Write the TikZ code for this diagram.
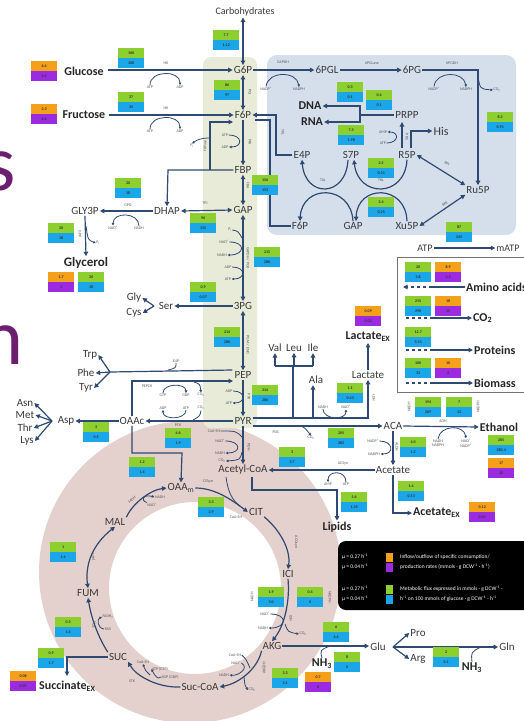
\documentclass[tikz,border=0pt]{standalone}
\usepackage{fontspec}
\setmainfont{Carlito}
\usetikzlibrary{arrows.meta}
\definecolor{lnc}{HTML}{2F4A72}
\definecolor{txt}{HTML}{3A3A3A}
\definecolor{fgreen}{HTML}{8CCF2E}
\definecolor{fblue}{HTML}{1AA6E8}
\definecolor{forange}{HTML}{F5A01A}
\definecolor{fpurple}{HTML}{9A2BE0}
\definecolor{bandc}{HTML}{E9EBD9}
\definecolor{pppc}{HTML}{D5DFEC}
\definecolor{ringc}{HTML}{E4D0CC}
\definecolor{slidec}{HTML}{6C1F6E}
\newcommand\FluxPair[7]{%
 \node[fbx,fill=#4,anchor=north west] (#1a) at (#2,#3) {#5};
 \node[fbx,fill=#6,anchor=north west] (#1b) at (#2,#3+10) {#7};}
\newcommand\GB[5]{\FluxPair{#1}{#2}{#3}{fgreen}{#4}{fblue}{#5}}
\newcommand\OP[5]{\FluxPair{#1}{#2}{#3}{forange}{#4}{fpurple}{#5}}
\tikzset{
 met/.style={font=\fontsize{11}{12}\selectfont, text=txt, inner sep=1pt},
 metb/.style={font=\fontsize{12}{13}\selectfont\bfseries, text=black!85, inner sep=1pt},
 cof/.style={font=\fontsize{4}{4.5}\selectfont, text=black!65, inner sep=0.5pt},
 enz/.style={font=\fontsize{4}{4.5}\selectfont, text=black!65, inner sep=0.5pt},
 fbx/.style={minimum width=26pt, minimum height=10pt, inner sep=0pt, font=\fontsize{4}{4}\selectfont\bfseries, text=black!80},
 ln/.style={draw=lnc, line width=1.2pt},
 ar/.style={ln, -{Triangle[length=4.5pt,width=4.5pt]}},
 dar/.style={ln, {Triangle[length=4.5pt,width=4.5pt]}-{Triangle[length=4.5pt,width=4.5pt]}},
 ca/.style={draw=lnc, line width=0.8pt, -{Triangle[length=2.5pt,width=2.5pt]}},
 cl/.style={draw=lnc, line width=0.8pt},
 lg/.style={font=\fontsize{5.5}{6}\selectfont, text=white, inner sep=0pt},
 sq/.style={minimum width=7pt, minimum height=9pt, inner sep=0pt},
}
\begin{document}
\begin{tikzpicture}[x=1pt,y=-1pt]
\clip (0,0) rectangle (524,721);
\fill[white] (0,0) rectangle (524,721);
% backgrounds
\fill[ringc, even odd rule] (190,572) circle[radius=151pt] (195,588) circle[radius=86pt];
\fill[bandc, rounded corners=8pt] (203,57) rectangle (257,428);
\fill[pppc, rounded corners=10pt] (267,55) rectangle (516,235);
\fill[black, rounded corners=8pt] (338,541) rectangle (540,610);
\draw[draw=black!55, line width=0.8pt] (397,257) rectangle (540,392);
% slide letters
\node[anchor=east, inner sep=0pt, text=slidec, font=\fontsize{80}{80}\selectfont] (sl1) at (16,171) {s};
\node[anchor=east, inner sep=0pt, text=slidec, font=\fontsize{80}{80}\selectfont] (sl2) at (24,345) {n};

% ---------- glycolysis ----------
\node[met,font=\fontsize{10}{11}\selectfont] (carb) at (245,12) {Carbohydrates};
\node[met] (g6p) at (243,70) {G6P};
\node[met] (f6p) at (243,115) {F6P};
\node[met] (fbp) at (243,170) {FBP};
\node[met] (gap) at (243,210) {GAP};
\node[met] (pg3) at (243,306) {3PG};
\node[met] (pep) at (243,375) {PEP};
\node[met] (pyr) at (243,421) {PYR};
\node[met] (accoa) at (243,470) {Acetyl-CoA};
\draw[dar] (carb.south -| g6p.north) -- (g6p.north);
\draw[dar] (g6p.south) -- (f6p.north);
\draw[ar] (f6p.south) -- (fbp.north);
\draw[dar] (fbp.south) -- (gap.north);
\draw[dar] (gap.south) -- (pg3.north);
\draw[dar] (pg3.south) -- (pep.north);
\draw[ar] (pep.south) -- (pyr.north);
\draw[ar] (pyr.south) -- (accoa.north);
\node[enz,rotate=-90] (e_pgi) at (250,92) {PGI};
\node[enz,rotate=-90] (e_pfk) at (250,142) {PFK};
\node[enz,rotate=-90] (e_fba) at (248,186) {FBA};
\node[enz,rotate=-90] (e_gapdh) at (248,258) {GAPDH / PGK};
\node[enz,rotate=-90] (e_eno) at (248,345) {PGM / ENO};
\node[enz,rotate=-90] (e_pyk) at (249,397) {PYK};
\node[enz,rotate=-90] (e_pdh) at (249,447) {PDH};
% PFK cofactors
\node[cof] (c_atp3) at (225,135) {ATP};
\node[cof] (c_adp3) at (225,147) {ADP};
\draw[ca] (c_atp3.east) .. controls +(14,0) and +(14,0) .. (c_adp3.east);
% GAPDH/PGK cofactors
\node[cof] (c_pi2) at (230,230) {P\textsubscript{i}};
\node[cof] (c_nad2) at (224,242) {NAD\textsuperscript{+}};
\node[cof] (c_nadh2) at (222,255) {NADH};
\node[cof] (c_adp2) at (228,267) {ADP};
\node[cof] (c_atp2) at (228,279) {ATP};
\draw[cl] (c_pi2.east) .. controls (238,231) .. (242,238);
\draw[ca] (c_nad2.east) .. controls +(17,0) and +(17,0) .. (c_nadh2.east);
\draw[ca] (c_adp2.east) .. controls +(14,0) and +(14,0) .. (c_atp2.east);
% PYK cofactors
\node[cof] (c_adp4) at (229,391) {ADP};
\node[cof] (c_atp4) at (229,403) {ATP};
\draw[ca] (c_adp4.east) .. controls +(13,0) and +(13,0) .. (c_atp4.east);
% PDH cofactors
\node[cof] (c_coa1) at (214,431) {CoA-SH};
\node[cof] (c_nad1) at (220,441) {NAD\textsuperscript{+}};
\node[cof] (c_nadh1) at (220,453) {NADH};
\node[cof] (c_co21) at (222,461) {CO\textsubscript{2}};
\draw[cl] (c_coa1.east) .. controls (236,431) .. (242,437);
\draw[ca] (c_nad1.east) .. controls +(16,0) and +(16,0) .. (c_nadh1.east);
\draw[ca] (242,452) .. controls (240,460) .. (c_co21.east);

% sugars in
\node[metb] (glc) at (84,71) {Glucose};
\node[metb] (fru) at (84,115) {Fructose};
\draw[ar] (g6p.west -| glc.east) ++(3,0) -- (g6p.west);
\draw[ar] (f6p.west -| fru.east) ++(3,0) -- (f6p.west);
\node[enz] (e_hk1) at (166,63) {HK};
\node[enz] (e_hk2) at (166,108) {HK};
\node[cof] (c_atpg) at (150,87) {ATP};
\node[cof] (c_adpg) at (180,87) {ADP};
\draw[ca] (c_atpg.north) .. controls +(0,-15) and +(0,-15) .. (c_adpg.north);
\node[cof] (c_atpf) at (150,131) {ATP};
\node[cof] (c_adpf) at (180,131) {ADP};
\draw[ca] (c_atpf.north) .. controls +(0,-15) and +(0,-15) .. (c_adpf.north);

% FBP -> DHAP, FBPase
\node[met] (dhap) at (167,211) {DHAP};
\node[met] (gly3p) at (85,211) {GLY3P};
\node[metb,font=\fontsize{13}{14}\selectfont\bfseries] (glyc) at (86,263) {Glycerol};
\draw[ar] (fbp.west) -- (168,170) -- (dhap.north);
\draw[ar] (210,170) -- (210,122) -- (233,122);
\node[enz,rotate=90] (e_fbpase) at (205,146) {FBPase};
\node[cof] (c_pi1) at (192,146) {P\textsubscript{i}};
\draw[ca] (210,138) .. controls (200,138) and (197,140) .. (c_pi1.north);
\draw[dar] (gap.west) -- (dhap.east);
\node[enz] (e_tpi) at (205,203) {TPI};
\draw[ar] (dhap.west) -- (gly3p.east);
\node[enz] (e_gpd) at (128,205) {GPD};
\node[cof] (c_nad5) at (113,228) {NAD\textsuperscript{+}};
\node[cof] (c_nadh5) at (139,228) {NADH};
\draw[ca] (c_nadh5.north) .. controls +(0,-14) and +(0,-14) .. (c_nad5.north);
\draw[ar] (gly3p.south) -- (glyc.north);
\node[enz,rotate=-90] (e_gpp) at (80,234) {GPP};
\node[cof] (c_pi3) at (98,243) {P\textsubscript{i}};
\draw[ca] (86,226) .. controls (88,240) .. (c_pi3.west);

% Ser, Gly, Cys
\node[met] (ser) at (166,306) {Ser};
\node[met] (gly) at (134,298) {Gly};
\node[met] (cys) at (134,313) {Cys};
\draw[ar] (pg3.west) -- (ser.east);
\coordinate (sv) at (154,306);
\draw[ar] (sv) -- (gly.east);
\draw[ar] (sv) -- (cys.east);

% aromatic
\node[met] (trp) at (90,355) {Trp};
\node[met] (phe) at (86,373) {Phe};
\node[met] (tyr) at (86,388) {Tyr};
\coordinate (av) at (110,372);
\draw[ln] ([xshift=-1pt]pep.west |- 0,370) -- (av);
\draw[ar] (av) -- (trp.east);
\draw[ar] (av) -- (phe.east);
\draw[ar] (av) -- (tyr.east);
\node[cof] (c_e4p) at (176,361) {E4P};
\draw[cl] (c_e4p.south) .. controls (176,368) .. (168,370);

% OAAc, Asp
\node[met] (oaac) at (132,421) {OAAc};
\node[met] (asp) at (66,421) {Asp};
\node[met] (asn) at (25,403) {Asn};
\node[met] (metn) at (25,415) {Met};
\node[met] (thr) at (25,428) {Thr};
\node[met] (lys) at (27,441) {Lys};
\draw[ar] (pyr.west) -- (oaac.east);
\draw[ar] (oaac.west) -- (asp.east);
\coordinate (dv) at (52,421);
\draw[ar] (dv) -- (asn.east);
\draw[ar] (dv) -- (metn.east);
\draw[ar] (dv) -- (thr.east);
\draw[ar] (dv) -- (lys.east);
\draw[ar] (oaac.north) -- (132,381) -- (233,381);
\node[enz] (e_pepck) at (147,386) {PEPCK};
\node[cof] (c_gtp) at (163,395) {GTP};
\node[cof] (c_gdp) at (186,395) {GDP};
\node[cof] (c_co2p) at (201,395) {CO\textsubscript{2}};
\draw[ca] (c_gtp.north) .. controls +(0,-10) and +(0,-10) .. (c_gdp.north);
\draw[ca] (194,382) .. controls (200,384) .. (c_co2p.north);
\node[cof] (c_atpc) at (186,408) {ATP};
\node[cof] (c_co2c) at (201,408) {CO\textsubscript{2}};
\node[cof] (c_adpc) at (163,408) {ADP};
\draw[ca] (c_atpc.south) .. controls +(0,10) and +(0,10) .. (c_adpc.south);
\draw[cl] (c_co2c.south) .. controls (200,416) .. (193,420);
\node[enz] (e_pck) at (178,425) {PCK};
\node[met] (oaam) at (181,488) {OAA\textsubscript{m}};
\draw[ar] (oaac.south) -- (132,453) -- (182,453) -- (oaam.north);

% PYR branches
\node[met] (val) at (275,348) {Val};
\node[met] (leu) at (294,348) {Leu};
\node[met] (ile) at (313,348) {Ile};
\node[met] (ala) at (316,380) {Ala};
\node[met] (lac) at (368,375) {Lactate};
\node[metb] (lacex) at (368,337) {Lactate\textsubscript{EX}};
\node[met] (aca) at (393,426) {ACA};
\node[metb] (eth) at (499,427) {Ethanol};
\node[met] (acet) at (393,470) {Acetate};
\node[metb,anchor=west] (acex) at (412,513) {Acetate\textsubscript{EX}};
\node[metb] (lip) at (337,527) {Lipids};
\draw[ar] (pyr.east |- 0,418) -- (368,418) -- (lac.south);
\draw[ln] (293,418) -- (293,366);
\draw[ln] (275,366) -- (313,366);
\draw[ar] (275,366) -- (val.south);
\draw[ar] (294,366) -- (leu.south);
\draw[ar] (313,366) -- (ile.south);
\draw[ar] (313,418) -- (ala.south -| 313,0);
\draw[ar] (lac.north) -- (lacex.south);
\node[enz,rotate=-90] (e_ldh) at (374,398) {LDH};
\node[cof] (c_nadhl) at (323,407) {NADH};
\node[cof] (c_nadl) at (346,407) {NAD\textsuperscript{+}};
\draw[ca] (c_nadhl.south) .. controls +(0,11) and +(0,11) .. (c_nadl.south);
\draw[ar] (pyr.east |- 0,426) -- (aca.west);
\node[enz] (e_pdc) at (276,432) {PDC};
\node[cof] (c_co2d) at (311,438) {CO\textsubscript{2}};
\draw[ca] (301,426) .. controls (305,428) .. (c_co2d.north);
\draw[ar] (aca.east) -- (eth.west);
\node[enz] (e_adh) at (443,421) {ADH};
\node[cof,align=center] (c_nadhe) at (438,443) {NADH\\NADPH};
\node[cof,align=center] (c_nade) at (466,443) {NAD\textsuperscript{+}\\NADP\textsuperscript{+}};
\draw[ca] (c_nadhe.north) .. controls +(2,-14) and +(-2,-14) .. (c_nade.north);
\node[enz,rotate=90] (e_adh1) at (409,407) {NADH};
\node[enz,rotate=90] (e_adh2) at (478,407) {NADPH};
\draw[ar] (aca.south) -- (acet.north);
\node[enz,rotate=-90] (e_aldh) at (397,447) {ALDH};
\node[cof] (c_nadpa) at (373,441) {NADP\textsuperscript{+}};
\node[cof] (c_nadpha) at (374,454) {NADPH};
\draw[ca] (c_nadpa.east) .. controls +(14,0) and +(14,0) .. (c_nadpha.east);
\draw[ar] (acet.west) -- (accoa.east);
\node[enz] (e_acs) at (343,464) {ACSyn};
\node[cof] (c_amp) at (328,484) {AMP};
\node[cof] (c_atpa) at (346,484) {ATP};
\draw[ca] (c_atpa.north) .. controls +(0,-12) and +(0,-12) .. (c_amp.north);
\draw[ar] (acet.south) -- (393,513) -- (acex.west);
\draw[ar] (252,477) -- (252,490) -- (337,490) -- (lip.north);

% ---------- TCA ----------
\node[met] (cit) at (256,512) {CIT};
\node[met] (ici) at (288,574) {ICI};
\node[met] (akg) at (272,646) {AKG};
\node[met] (succoa) at (200,687) {Suc-CoA};
\node[met] (suc) at (118,657) {SUC};
\node[met] (fum) at (88,593) {FUM};
\node[met] (mal) at (115,522) {MAL};
\draw[ar] (oaam.east) .. controls (215,488) and (232,500) .. (cit.west);
\draw[cl] (226,477) .. controls (228,492) and (232,500) .. (240,506);
\node[enz] (e_cs) at (208,482) {CITsyn};
\node[cof] (c_coacs) at (236,517) {CoA-SH};
\draw[ar] (cit.south east) .. controls (280,530) and (291,550) .. (ici.north);
\node[enz,rotate=-90] (e_aco) at (296,542) {ACOsyn};
\draw[ar] (ici.south) .. controls (290,600) and (285,625) .. (akg.north);
\node[enz,rotate=-90] (e_idh) at (291,618) {IDH};
\node[cof] (c_nadi) at (265,614) {NAD\textsuperscript{+}};
\node[cof] (c_nadhi) at (263,628) {NADH};
\node[cof] (c_co2i) at (303,634) {CO\textsubscript{2}};
\draw[ca] (c_nadi.east) .. controls +(18,0) and +(18,0) .. (c_nadhi.east);
\draw[ca] (285,624) .. controls (288,632) .. (c_co2i.west);
\node[enz,rotate=90] (e_n1) at (252,597) {NADH};
\node[enz,rotate=-90] (e_n2) at (330,597) {NADPH};
\draw[ar] (akg.south west) .. controls (258,668) and (240,683) .. (succoa.east);
\node[enz,rotate=90] (e_kgd) at (264,668) {AKGDH};
\node[cof] (c_coak) at (235,655) {CoA-SH};
\node[cof] (c_nadk) at (236,663) {NAD\textsuperscript{+}};
\node[cof] (c_nadhk) at (224,675) {NADH};
\node[cof] (c_co2k) at (252,690) {CO\textsubscript{2}};
\draw[cl] (c_coak.east) .. controls (246,659) .. (250,668);
\draw[ca] (c_nadk.east) .. controls (250,668) and (238,676) .. (c_nadhk.east);
\draw[ca] (244,677) .. controls (245,686) .. (c_co2k.west);
\draw[ar] (succoa.west) .. controls (158,688) and (136,676) .. (suc.south east);
\node[enz] (e_stk) at (132,681) {STK};
\node[cof] (c_coas) at (143,662) {CoA-SH};
\node[cof] (c_atps) at (160,669) {ATP (GTP)};
\node[cof] (c_adps) at (170,677) {ADP (GDP)};
\draw[ca] (c_adps.west) .. controls (158,680) and (155,676) .. (c_atps.west);
\draw[ca] (150,675) .. controls (145,670) .. (c_coas.south);
\draw[ar] (suc.north west) .. controls (100,640) and (92,622) .. (fum.south);
\node[enz,rotate=70] (e_sdh) at (94,625) {SDH};
\node[cof] (c_fadh) at (108,617) {FADH\textsubscript{2}};
\node[cof] (c_fad) at (108,629) {FAD};
\draw[ca] (c_fad.west) .. controls (97,628) and (97,619) .. (c_fadh.west);
\draw[dar] (fum.north) .. controls (85,565) and (92,545) .. (mal.south);
\node[enz,rotate=-80] (e_fum) at (93,557) {FUM};
\draw[ar] (mal.north east) .. controls (132,504) and (150,490) .. (oaam.west);
\node[enz,rotate=40] (e_mdh) at (132,500) {MDH};
\node[cof] (c_nadhm) at (160,497) {NADH};
\node[cof] (c_nadm) at (152,505) {NAD\textsuperscript{+}};
\draw[ca] (c_nadm.north west) .. controls (140,500) and (143,494) .. (c_nadhm.west);
\node[metb,anchor=west] (sucex) at (38,686) {Succinate\textsubscript{EX}};
\draw[ar] (suc.west) -- (67,657) -- (67,676);

% Glu
\node[met] (glu) at (378,647) {Glu};
\node[met] (pro) at (418,633) {Pro};
\node[met] (arg) at (418,659) {Arg};
\node[met] (gln) at (507,647) {Gln};
\node[metb] (nh3a) at (322,664) {NH\textsubscript{3}};
\node[metb] (nh3b) at (472,668) {NH\textsubscript{3}};
\draw[ar] (akg.east) -- (akg.east -| glu.west);
\draw[cl] (nh3a.north) .. controls (320,650) .. (330,646);
\coordinate (gv) at (393,647);
\draw[ar] (gv) -- (pro.west);
\draw[ar] (gv) -- (arg.west);
\draw[ar] (gv) -- (gln.west);
\draw[cl] (nh3b.north) .. controls (471,652) .. (481,647);

% ---------- PPP ----------
\node[met] (pgl) at (327,70) {6PGL};
\node[met] (pg6) at (412,70) {6PG};
\node[metb] (dna) at (310,106) {DNA};
\node[metb] (rna) at (312,122) {RNA};
\node[met] (prpp) at (407,115) {PRPP};
\node[met,font=\fontsize{12}{13}\selectfont] (his) at (441,131) {His};
\node[met] (e4p) at (302,155) {E4P};
\node[met] (s7p) at (351,155) {S7P};
\node[met] (r5p) at (407,155) {R5P};
\node[met] (ru5p) at (478,190) {Ru5P};
\node[met] (f6pb) at (300,226) {F6P};
\node[met] (gapb) at (353,226) {GAP};
\node[met] (xu5p) at (407,226) {Xu5P};
\draw[ar] (g6p.east) -- (pgl.west);
\node[enz] (e_g6pdh) at (283,62) {G6PDH};
\node[cof] (c_nadp1) at (266,89) {NADP\textsuperscript{+}};
\node[cof] (c_nadph1) at (299,89) {NADPH};
\draw[ca] (c_nadp1.north) .. controls +(2,-16) and +(-2,-16) .. (c_nadph1.north);
\draw[ar] (pgl.east) -- (pg6.west);
\node[enz] (e_pgl) at (372,63) {6PGLase};
\draw[ar] (pg6.east) -| (ru5p.north);
\node[enz] (e_gnd) at (452,63) {6PGDH};
\node[cof] (c_nadp2) at (434,89) {NADP\textsuperscript{+}};
\node[cof] (c_nadph2) at (466,89) {NADPH};
\draw[ca] (c_nadp2.north) .. controls +(2,-16) and +(-2,-16) .. (c_nadph2.north);
\node[cof] (c_co2g) at (497,90) {CO\textsubscript{2}};
\draw[ca] (478,76) .. controls (480,89) .. (c_co2g.west);
\draw[ln] (prpp.west) -- (360,115);
\draw[ar] (360,115) |- (dna.east);
\draw[ar] (360,115) |- (rna.east);
\draw[ar] (402,148) -- (402,122);
\draw[ar] (411,148) |- (his.west);
\node[enz,rotate=-90] (e_prs) at (407,137) {PRS};
\node[cof] (c_amp2) at (383,132) {AMP};
\node[cof] (c_atp5) at (383,143) {ATP};
\draw[ca] (c_atp5.east) .. controls +(12,0) and +(12,0) .. (c_amp2.east);
\draw[dar] (r5p.east) -- (ru5p.north west);
\node[enz,rotate=-33] (e_rpi) at (447,164) {RPI};
\draw[dar] (ru5p.south west) -- (xu5p.east);
\node[enz,rotate=37] (e_rpe) at (445,204) {RPE};
\draw[ar] ([xshift=-3pt]s7p.south) .. controls (346,198) and (305,198) .. (e4p.south);
\draw[ar] (gapb.north) .. controls (351,184) and (302,184) .. (f6pb.north);
\draw[ar] (r5p.south) .. controls (405,198) and (358,198) .. ([xshift=3pt]s7p.south);
\draw[ar] (xu5p.north) .. controls (406,184) and (357,184) .. ([xshift=3pt]gapb.north);
\node[enz] (e_tal) at (323,180) {TAL};
\node[enz] (e_tkl) at (381,180) {TKL};
\draw[ar] (e4p.west) -| (276,115) -- (f6p.east);
\draw[ln] (f6pb.west) -| (270,120) -- (255,120);
\node[enz,rotate=-90] (e_tkl2) at (283,132) {TKL};

% ATP maintenance
\node[met,font=\fontsize{10}{11}\selectfont] (atpm) at (425,248) {ATP};
\node[met,font=\fontsize{10}{11}\selectfont] (matp) at (508,248) {mATP};
\draw[ar] (atpm.east) -- (matp.west);

% outputs panel
\node[metb,anchor=west] (aa) at (465,287) {Amino acids};
\node[metb,anchor=west] (co2o) at (472,318) {CO\textsubscript{2}};
\node[metb,anchor=west] (prot) at (473,350) {Proteins};
\node[metb,anchor=west] (bio) at (473,383) {Biomass};
\draw[ln] (aa.west) -- (432,287);
\draw[ln,dashed,-{Triangle[length=4.5pt,width=4.5pt]}] (432,287) -- (403,287);
\draw[ln,dashed] (406,318) -- (432,318);
\draw[ar] (432,318) -- (co2o.west);
\draw[ln,dashed] (406,350) -- (432,350);
\draw[ar] (432,350) -- (prot.west);
\draw[ln,dashed] (406,383) -- (432,383);
\draw[ar] (432,383) -- (bio.west);

% ---------- flux boxes ----------
\GB{bcarb}{213}{30}{7.7}{1.12}
\GB{bglc}{118}{48}{100}{100}
\OP{xglc}{31}{61}{6.4}{5.4}
\GB{bfru}{118}{92}{37}{35}
\OP{xfru}{31}{104}{2.3}{2.6}
\GB{bpgi}{214}{80}{86}{97}
\GB{bfba}{252}{175}{156}{153}
\GB{bgpd}{115}{178}{20}{18}
\GB{btpi}{190}{213}{96}{135}
\GB{bgap}{254}{247}{215}{286}
\GB{bgpp}{48}{223}{20}{18}
\OP{xgly}{48}{272}{1.7}{1}
\GB{bgly}{78}{272}{20}{18}
\GB{bser}{190}{282}{0.9}{0.07}
\GB{beno}{214}{327}{214}{286}
\GB{bpyk}{252}{385}{214}{286}
\GB{bpck}{165}{428}{4.6}{1.9}
\GB{basp}{83}{422}{3}{0.5}
\GB{boaa}{129}{457}{1.2}{1.4}
\GB{bcs}{198}{497}{3.3}{2.9}
\GB{bacs}{279}{447}{3}{3.7}
\GB{blip}{341}{492}{5.6}{1.35}
\GB{bldh}{337}{383}{1.1}{0.43}
\OP{xlac}{355}{306}{0.09}{0.02}
\GB{bpdc}{328}{428}{205}{282}
\GB{bald}{400}{437}{4.0}{1.2}
\GB{badh}{415}{397}{194}{269}
\GB{badhb}{446}{397}{7}{12}
\GB{beth}{488}{435}{205}{280.4}
\OP{xeth}{488}{458}{17}{12}
\GB{bace}{398}{481}{1.4}{0.53}
\OP{xace}{469}{502}{0.12}{0.01}
\GB{batp}{446}{222}{87}{245}
\GB{baa}{405}{262}{20}{3.8}
\OP{xaa}{435}{262}{8.9}{3.3}
\GB{bco}{405}{296}{215}{290}
\OP{xco}{435}{296}{18}{15}
\GB{bprot}{405}{327}{12.7}{3.31}
\GB{bbio}{405}{358}{100}{33}
\OP{xbio}{435}{358}{10}{2}
\GB{bgnd}{487}{112}{8.2}{0.91}
\GB{bdna}{337}{82}{0.3}{0.1}
\GB{bprpp}{366}{90}{0.4}{0.1}
\GB{brna}{338}{125}{7.3}{1.98}
\GB{btkla}{368}{158}{2.5}{0.31}
\GB{btklb}{368}{197}{2.4}{0.25}
\GB{bidha}{258}{587}{1.9}{3.0}
\GB{bidhb}{297}{587}{0.4}{0}
\GB{bkgd}{272}{668}{3.3}{3.1}
\GB{bglu}{323}{622}{6}{6.6}
\GB{bnh}{334}{652}{8}{0}
\OP{xnh}{305}{672}{0.7}{0}
\GB{bgln}{433}{647}{2}{0.1}
\GB{bsdh}{55}{617}{0.3}{1.4}
\GB{bfum}{50}{542}{1}{1.4}
\GB{bsuc}{38}{648}{0.9}{1.7}
\OP{xsuc}{10}{671}{0.08}{0.07}

% ---------- legend ----------
\node[lg,anchor=west] (lm1) at (342,557) {µ = 0.27 h\textsuperscript{-1}};
\node[lg,anchor=west] (lm2) at (342,567) {µ = 0.04 h\textsuperscript{-1}};
\node[sq,fill=forange] (lso) at (389,557) {};
\node[sq,fill=fpurple] (lsp) at (389,567) {};
\node[lg,anchor=west] (lt1) at (400,557) {Inflow/outflow of specific consumption/};
\node[lg,anchor=west] (lt2) at (400,567) {production rates (mmols · g DCW\textsuperscript{-1} · h\textsuperscript{-1})};
\node[lg,anchor=west] (lm3) at (342,589) {µ = 0.27 h\textsuperscript{-1}};
\node[lg,anchor=west] (lm4) at (342,599) {µ = 0.04 h\textsuperscript{-1}};
\node[sq,fill=fgreen] (lsg) at (389,589) {};
\node[sq,fill=fblue] (lsb) at (389,599) {};
\node[lg,anchor=west] (lt3) at (400,589) {Metabolic flux expressed in mmols · g DCW\textsuperscript{-1} ·};
\node[lg,anchor=west] (lt4) at (400,599) {h\textsuperscript{-1} on 100 mmols of glucose · g DCW\textsuperscript{-1} · h\textsuperscript{-1}};
\end{tikzpicture}
\end{document}
